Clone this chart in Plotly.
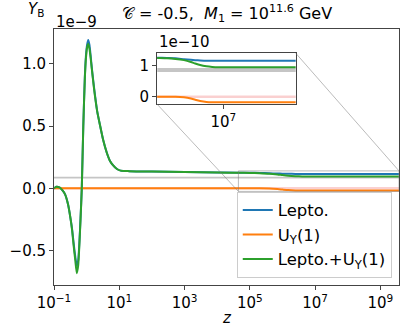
import plotly.graph_objects as go

# z grid and Y_B curves (in units of 1e-9)
z = [0.1, 0.12, 0.15, 0.18, 0.22, 0.27, 0.32, 0.36, 0.40, 0.45, 0.50, 0.55,
     0.60, 0.65, 0.71, 0.79, 0.88, 0.95, 1.03, 1.12, 1.22, 1.32, 1.45, 1.6,
     1.8, 2.1, 2.6, 3.2, 4.1, 5.2, 6.5, 8.5, 11, 20, 50, 1e2, 1e3, 1e4,
     4.5e4, 1e5, 2e5, 4e5, 7e5, 1e6, 1.5e6, 2.5e6, 4e6, 7e6, 1e7, 1e8, 1e9,
     3.7e9]

y_lepto = [0.0, 0.012, 0.005, -0.015, -0.05, -0.13, -0.24, -0.33, -0.44,
           -0.55, -0.62, -0.58, -0.43, -0.24, 0.0, 0.5, 0.89, 1.06, 1.15,
           1.19, 1.15, 1.07, 0.96, 0.86, 0.75, 0.62, 0.50, 0.39, 0.29, 0.22,
           0.185, 0.155, 0.142, 0.138, 0.136, 0.135, 0.131, 0.128, 0.126,
           0.125, 0.124, 0.121, 0.119, 0.118, 0.117, 0.116, 0.116, 0.116,
           0.116, 0.116, 0.116, 0.116]

y_uy = [0.0] * 40 + [0.0, -0.002, -0.006, -0.010, -0.014, -0.017, -0.018,
                     -0.018, -0.018, -0.018, -0.018, -0.018]

y_both = [0.0, 0.012, 0.005, -0.015, -0.05, -0.13, -0.24, -0.34, -0.46,
          -0.58, -0.68, -0.62, -0.45, -0.25, 0.0, 0.5, 0.88, 1.04, 1.13,
          1.16, 1.12, 1.05, 0.95, 0.85, 0.74, 0.62, 0.50, 0.39, 0.29, 0.22,
          0.185, 0.155, 0.142, 0.138, 0.136, 0.135, 0.131, 0.127, 0.125,
          0.124, 0.122, 0.118, 0.112, 0.107, 0.102, 0.098, 0.096, 0.095,
          0.095, 0.095, 0.095, 0.095]

# observed band (1e-9)
obs_lo, obs_hi = 0.080, 0.093

x_ticks = [0.1, 10, 1e3, 1e5, 1e7, 1e9]
x_ticktext = ["10<sup>−1</sup>", "10<sup>1</sup>", "10<sup>3</sup>",
              "10<sup>5</sup>", "10<sup>7</sup>", "10<sup>9</sup>"]

BLUE = "#1f77b4"
ORANGE = "#ff7f0e"
GREEN = "#2ca02c"
FONT = "DejaVu Sans"

# axis ranges
xr_main = [-1, 9.57]
yr_main = [-0.775, 1.278]
xr_ins = [4.65, 9.57]
yr_ins = [-0.245, 1.40]  # units of 1e-10
ins_dom_x = [0.299, 0.701]
ins_dom_y = [0.706, 0.905]

series = [("Lepto.", y_lepto, BLUE),
          ("U<sub>Y</sub>(1)", y_uy, ORANGE),
          ("Lepto.+U<sub>Y</sub>(1)", y_both, GREEN)]

fig = go.Figure()

# background band + zero line, on both axes pairs
for xa, ya, xr, scale in (("x", "y", xr_main, 1), ("x2", "y2", xr_ins, 10)):
    span = [10 ** xr[0], 10 ** xr[1]]
    fig.add_trace(go.Scatter(x=span, y=[obs_lo * scale] * 2, mode="lines",
                             line=dict(width=0), showlegend=False,
                             hoverinfo="skip", xaxis=xa, yaxis=ya))
    fig.add_trace(go.Scatter(x=span, y=[obs_hi * scale] * 2, mode="lines",
                             line=dict(width=0), fill="tonexty",
                             fillcolor="rgba(150,150,150,0.55)",
                             showlegend=False, hoverinfo="skip",
                             xaxis=xa, yaxis=ya))
    fig.add_trace(go.Scatter(x=span, y=[0, 0], mode="lines",
                             line=dict(color="rgba(240,120,120,0.35)", width=2.5),
                             showlegend=False, hoverinfo="skip",
                             xaxis=xa, yaxis=ya))

for name, ys, col in series:
    fig.add_trace(go.Scatter(
        x=z, y=ys, mode="lines", name=name,
        line=dict(color=col, width=2, shape="spline", smoothing=0.6),
        xaxis="x", yaxis="y",
    ))
for name, ys, col in series:
    fig.add_trace(go.Scatter(
        x=z, y=[v * 10 for v in ys], mode="lines", showlegend=False,
        line=dict(color=col, width=2, shape="spline", smoothing=0.6),
        xaxis="x2", yaxis="y2",
    ))

shapes = []
# zoom rectangle on the main axes
rx0, rx1 = 10 ** xr_ins[0], 10 ** xr_ins[1]
ry0, ry1 = yr_ins[0] / 10, yr_ins[1] / 10
shapes.append(dict(type="rect", xref="x", yref="y", x0=rx0, x1=rx1,
                   y0=ry0, y1=ry1, line=dict(color="rgba(120,120,120,0.5)", width=1)))


def to_paper(lx, yv):
    px = (lx - xr_main[0]) / (xr_main[1] - xr_main[0])
    py = (yv - yr_main[0]) / (yr_main[1] - yr_main[0])
    return px, py


bl = to_paper(xr_ins[0], ry0)
tr = to_paper(xr_ins[1], ry1)
shapes.append(dict(type="line", xref="paper", yref="paper",
                   x0=ins_dom_x[0], y0=ins_dom_y[0], x1=bl[0], y1=bl[1],
                   line=dict(color="rgba(120,120,120,0.5)", width=1)))
shapes.append(dict(type="line", xref="paper", yref="paper",
                   x0=ins_dom_x[1], y0=ins_dom_y[1], x1=tr[0], y1=tr[1],
                   line=dict(color="rgba(120,120,120,0.5)", width=1)))

axis_common = dict(showgrid=False, zeroline=False, showline=True, mirror=True,
                   linecolor="#444", linewidth=1, ticks="outside", ticklen=4,
                   tickcolor="#444", automargin=False,
                   tickfont=dict(family=FONT, size=15, color="black"))

fig.update_layout(
    width=407, height=336,
    margin=dict(l=54, r=8, t=29, b=51),
    paper_bgcolor="white", plot_bgcolor="white",
    font=dict(family=FONT, size=15, color="black"),
    xaxis=dict(type="log", range=xr_main, tickvals=x_ticks, ticktext=x_ticktext,
               **axis_common),
    yaxis=dict(range=yr_main, tickvals=[-0.5, 0.0, 0.5, 1.0], tickformat=".1f",
               **axis_common),
    xaxis2=dict(type="log", range=xr_ins, domain=ins_dom_x, anchor="y2",
                tickvals=[1e7], ticktext=["10<sup>7</sup>"], **axis_common),
    yaxis2=dict(range=yr_ins, domain=ins_dom_y, anchor="x2",
                tickvals=[0, 1], ticktext=["0", "1"], **axis_common),
    shapes=shapes,
    showlegend=True,
    legend=dict(x=0.979, xanchor="right", y=0.028, yanchor="bottom",
                traceorder="normal",
                bgcolor="rgba(255,255,255,0.85)", bordercolor="#cccccc",
                borderwidth=1, font=dict(family=FONT, size=16.5)),
    annotations=[
        dict(text="<i>Y</i><sub>B</sub>", xref="paper", yref="paper",
             x=-0.08, y=1.075, xanchor="left", yanchor="middle", showarrow=False),
        dict(text="1e−9", xref="paper", yref="paper", x=0.0, y=1.028,
             xanchor="left", yanchor="middle", showarrow=False),
        dict(text="𝒞 = -0.5,  <i>M</i><sub>1</sub> = 10<sup>11.6</sup> GeV",
             xref="paper", yref="paper", x=0.5, y=1.06, xanchor="center",
             yanchor="middle", showarrow=False, font=dict(size=16)),
        dict(text="1e−10", xref="paper", yref="paper", x=ins_dom_x[0], y=0.948,
             xanchor="left", yanchor="middle", showarrow=False),
        dict(text="<i>z</i>", xref="paper", yref="paper", x=0.5, y=-0.13,
             xanchor="center", yanchor="middle", showarrow=False),
    ],
)

# the page's default body margin would push the 407x336 figure off the window
fig.write_html("out.html", config={"displayModeBar": False},
               post_script="document.body.style.margin='0';")
